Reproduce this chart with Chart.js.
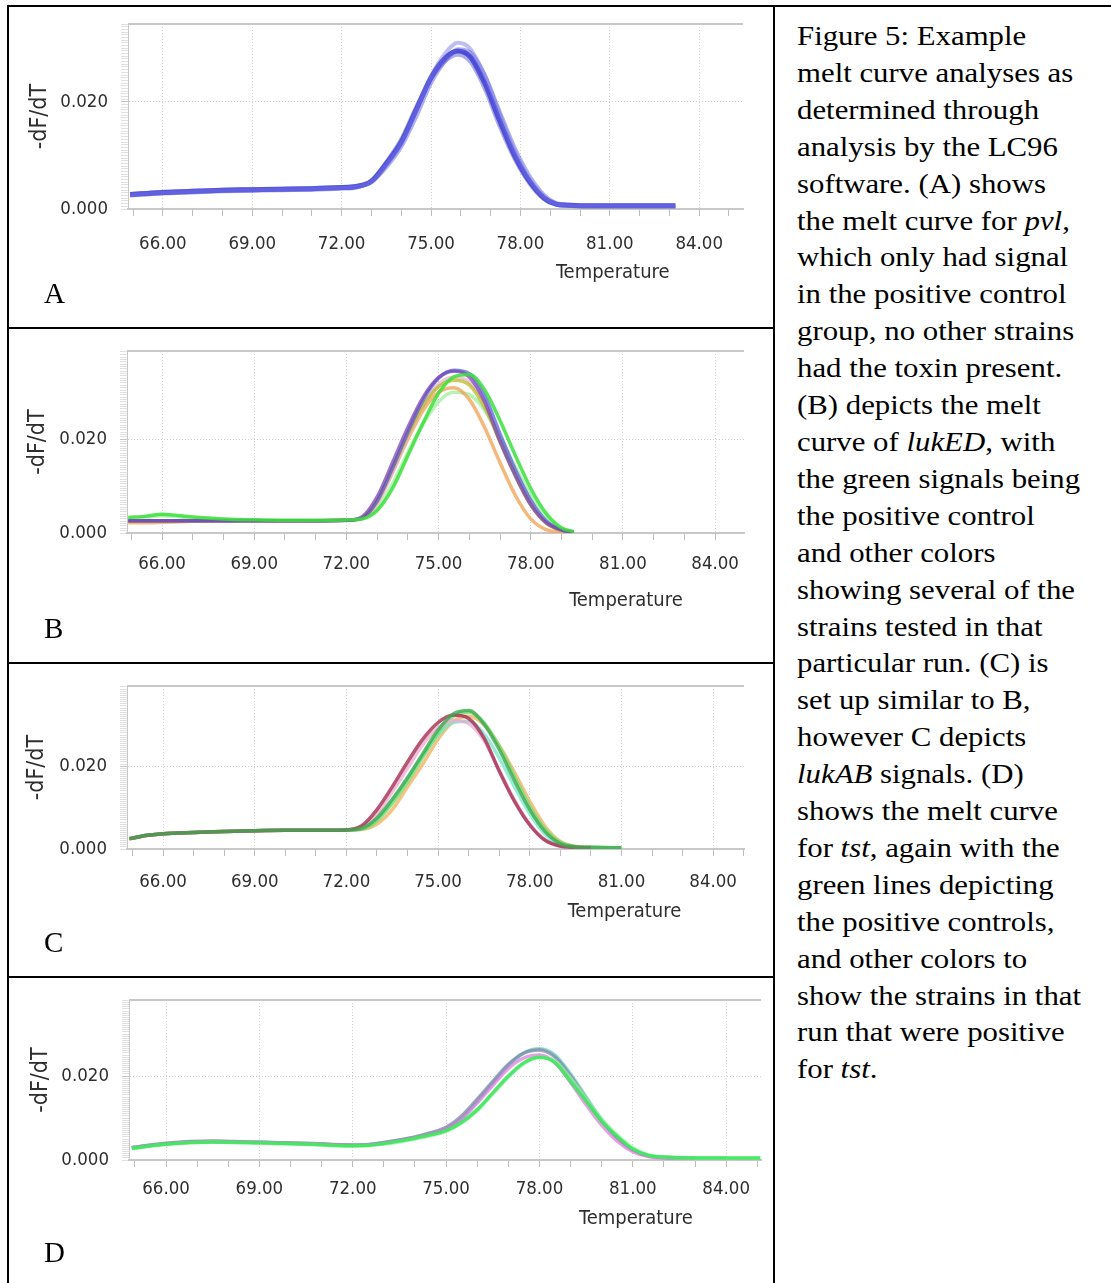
<!DOCTYPE html>
<html>
<head>
<meta charset="utf-8">
<script src="https://cdn.jsdelivr.net/npm/chart.js@4.4.1/dist/chart.umd.min.js"></script>
<style>
  body { margin: 0; background: #fff; }
  #page { position: relative; width: 1111px; height: 1283px; overflow: hidden; background: #fff; }
  canvas { position: absolute; left: 0; }
  .rule { position: absolute; background: #000; z-index: 2; }
  .letter { position: absolute; left: 44px; font-family: "Liberation Serif", "Times New Roman", serif; font-size: 29px; line-height: 29px; color: #000; }
  #caption { position: absolute; left: 797px; top: 18px; font-family: "Liberation Serif", "Times New Roman", serif;
             font-size: 28px; line-height: 36.9px; white-space: nowrap; color: #000;
             transform: scaleX(1.1); transform-origin: 0 0; }
</style>
</head>
<body>
<div id="page">
  <canvas id="chartA" width="775" height="327" style="top:0px"></canvas>
  <canvas id="chartB" width="775" height="335" style="top:327px"></canvas>
  <canvas id="chartC" width="775" height="314" style="top:662px"></canvas>
  <canvas id="chartD" width="775" height="307" style="top:976px"></canvas>

  <div class="rule" style="left:7px;top:5px;width:1104px;height:2px"></div>
  <div class="rule" style="left:7px;top:5px;width:2px;height:1278px"></div>
  <div class="rule" style="left:773px;top:5px;width:2px;height:1278px"></div>
  <div class="rule" style="left:7px;top:327px;width:768px;height:2px"></div>
  <div class="rule" style="left:7px;top:662px;width:768px;height:2px"></div>
  <div class="rule" style="left:7px;top:976px;width:768px;height:2px"></div>

  <div class="letter" style="top:279px">A</div>
  <div class="letter" style="top:614px">B</div>
  <div class="letter" style="top:928px">C</div>
  <div class="letter" style="top:1238px">D</div>

  <div id="caption">Figure 5: Example<br>melt curve analyses as<br>determined through<br>analysis by the LC96<br>software. (A) shows<br>the melt curve for <i>pvl</i>,<br>which only had signal<br>in the positive control<br>group, no other strains<br>had the toxin present.<br>(B) depicts the melt<br>curve of <i>lukED</i>, with<br>the green signals being<br>the positive control<br>and other colors<br>showing several of the<br>strains tested in that<br>particular run. (C) is<br>set up similar to B,<br>however C depicts<br><i>lukAB</i> signals. (D)<br>shows the melt curve<br>for <i>tst</i>, again with the<br>green lines depicting<br>the positive controls,<br>and other colors to<br>show the strains in that<br>run that were positive<br>for <i>tst</i>.</div>
</div>

<script>
// tick labels
const majorTemps = [66, 69, 72, 75, 78, 81, 84];
const xTickLabels = ['66.00', '69.00', '72.00', '75.00', '78.00', '81.00', '84.00'];
const yTickValues = [0, 0.02];
const yTickLabels = ['0.000', '0.020'];

// A - pvl
const tempA = [64.9, 66, 67, 68, 69, 70, 71, 72, 72.5, 73, 73.5, 74, 74.5, 75, 75.5, 75.9, 76.3, 76.8, 77.3, 77.8, 78.3, 78.8, 79.2, 79.6, 80, 81, 82, 83.2];
const pvlMain = [0.0027, 0.0031, 0.0033, 0.0035, 0.0036, 0.0037, 0.0038, 0.0040, 0.0042, 0.0052, 0.0085, 0.0125, 0.0185, 0.0245, 0.0283, 0.0295, 0.0285, 0.0235, 0.0165, 0.0100, 0.0052, 0.0020, 0.0009, 0.0007, 0.0006, 0.0006, 0.0006, 0.0006];
const pvlHigh = [0.0026, 0.0030, 0.0032, 0.0034, 0.0035, 0.0036, 0.0037, 0.0039, 0.0041, 0.0050, 0.0082, 0.0122, 0.0183, 0.0248, 0.0292, 0.0310, 0.0300, 0.0250, 0.0178, 0.0108, 0.0056, 0.0022, 0.0009, 0.0006, 0.0005, 0.0005, 0.0005, 0.0005];
const pvlLate = [0.0028, 0.0032, 0.0034, 0.0036, 0.0037, 0.0038, 0.0039, 0.0041, 0.0043, 0.0050, 0.0078, 0.0116, 0.0172, 0.0235, 0.0278, 0.0298, 0.0293, 0.0250, 0.0182, 0.0115, 0.0062, 0.0026, 0.0011, 0.0008, 0.0007, 0.0006, 0.0006, 0.0006];
const pvlLow = [0.0025, 0.0029, 0.0031, 0.0033, 0.0034, 0.0035, 0.0036, 0.0038, 0.0040, 0.0053, 0.0088, 0.0130, 0.0190, 0.0243, 0.0277, 0.0288, 0.0276, 0.0225, 0.0155, 0.0094, 0.0048, 0.0018, 0.0008, 0.0006, 0.0005, 0.0005, 0.0005, 0.0005];

// B - lukED
const tempB = [64.9, 65.5, 66, 67, 68, 69, 70, 71, 72, 72.5, 73, 73.5, 74, 74.5, 75, 75.5, 76, 76.5, 77, 77.5, 78, 78.5, 79, 79.4];
const edPurple = [0.0026, 0.0026, 0.0026, 0.0026, 0.0026, 0.0026, 0.0026, 0.0026, 0.0027, 0.0034, 0.0077, 0.0150, 0.0225, 0.0290, 0.0332, 0.0345, 0.0333, 0.0280, 0.0195, 0.0122, 0.0060, 0.0022, 0.0006, 0.0002];
const edBlue = [0.0026, 0.0026, 0.0026, 0.0026, 0.0026, 0.0026, 0.0026, 0.0026, 0.0027, 0.0031, 0.0068, 0.0138, 0.0215, 0.0284, 0.0330, 0.0347, 0.0340, 0.0293, 0.0212, 0.0135, 0.0070, 0.0026, 0.0007, 0.0002];
const edGreen = [0.0033, 0.0036, 0.0040, 0.0034, 0.0030, 0.0028, 0.0027, 0.0027, 0.0028, 0.0030, 0.0048, 0.0095, 0.0165, 0.0235, 0.0298, 0.0333, 0.0338, 0.0305, 0.0240, 0.0165, 0.0095, 0.0042, 0.0011, 0.0003];
const edLightGreen = [0.0031, 0.0034, 0.0037, 0.0032, 0.0029, 0.0027, 0.0026, 0.0026, 0.0027, 0.0031, 0.0052, 0.0105, 0.0172, 0.0233, 0.0280, 0.0300, 0.0295, 0.0262, 0.0205, 0.0140, 0.0080, 0.0035, 0.0009, 0.0002];
const edOrange = [0.0022, 0.0022, 0.0023, 0.0025, 0.0026, 0.0026, 0.0026, 0.0026, 0.0027, 0.0031, 0.0065, 0.0130, 0.0200, 0.0262, 0.0300, 0.0310, 0.0285, 0.0225, 0.0150, 0.0080, 0.0030, 0.0007, 0.0002, 0.0001];
const edOlive = [0.0025, 0.0025, 0.0025, 0.0025, 0.0026, 0.0026, 0.0026, 0.0026, 0.0027, 0.0032, 0.0068, 0.0138, 0.0210, 0.0272, 0.0312, 0.0326, 0.0316, 0.0268, 0.0195, 0.0122, 0.0060, 0.0021, 0.0005, 0.0001];
const edPink = [0.0026, 0.0026, 0.0026, 0.0026, 0.0026, 0.0026, 0.0026, 0.0026, 0.0027, 0.0030, 0.0062, 0.0128, 0.0205, 0.0272, 0.0317, 0.0332, 0.0322, 0.0276, 0.0200, 0.0126, 0.0064, 0.0023, 0.0006, 0.0002];

// C - lukAB
const tempC = [64.9, 65.5, 66, 67, 68, 69, 70, 71, 72, 72.5, 73, 73.5, 74, 74.5, 75, 75.5, 76, 76.5, 77, 77.5, 78, 78.5, 79, 79.5, 80, 81];
const abRed = [0.0025, 0.0033, 0.0037, 0.0040, 0.0042, 0.0044, 0.0045, 0.0045, 0.0046, 0.0056, 0.0095, 0.0150, 0.0210, 0.0265, 0.0305, 0.0323, 0.0315, 0.0268, 0.0188, 0.0115, 0.0058, 0.0021, 0.0007, 0.0004, 0.0003, null];
const abGreen = [0.0025, 0.0033, 0.0037, 0.0040, 0.0042, 0.0044, 0.0045, 0.0045, 0.0046, 0.0050, 0.0075, 0.0120, 0.0172, 0.0230, 0.0287, 0.0326, 0.0334, 0.0302, 0.0240, 0.0165, 0.0095, 0.0042, 0.0013, 0.0005, 0.0004, 0.0003];
const abLightGreen = [0.0025, 0.0033, 0.0037, 0.0040, 0.0042, 0.0044, 0.0045, 0.0045, 0.0046, 0.0048, 0.0068, 0.0110, 0.0162, 0.0222, 0.0280, 0.0320, 0.0330, 0.0305, 0.0248, 0.0175, 0.0103, 0.0048, 0.0016, 0.0006, 0.0004, 0.0003];
const abOrange = [0.0025, 0.0033, 0.0037, 0.0040, 0.0042, 0.0044, 0.0045, 0.0045, 0.0046, 0.0047, 0.0060, 0.0095, 0.0150, 0.0205, 0.0265, 0.0308, 0.0320, 0.0300, 0.0250, 0.0185, 0.0115, 0.0055, 0.0018, 0.0006, 0.0004, null];
const abAqua = [0.0025, 0.0033, 0.0037, 0.0040, 0.0042, 0.0044, 0.0045, 0.0045, 0.0046, 0.0049, 0.0072, 0.0115, 0.0170, 0.0225, 0.0275, 0.0305, 0.0308, 0.0278, 0.0220, 0.0150, 0.0085, 0.0035, 0.0010, 0.0004, 0.0003, null];
const abPink = [0.0025, 0.0033, 0.0037, 0.0040, 0.0042, 0.0044, 0.0045, 0.0045, 0.0046, 0.0052, 0.0085, 0.0138, 0.0195, 0.0252, 0.0292, 0.0310, 0.0303, 0.0262, 0.0190, 0.0118, 0.0060, 0.0022, 0.0007, 0.0004, 0.0003, null];

// D - tst
const tempD = [64.9, 66, 67.5, 69, 70.5, 72, 72.5, 73, 73.5, 74, 74.5, 75, 75.5, 76, 76.5, 77, 77.5, 78, 78.5, 79, 79.5, 80, 80.5, 81, 81.5, 82, 83, 84, 85.1];
const tstGreen = [0.0028, 0.0038, 0.0043, 0.0041, 0.0038, 0.0034, 0.0035, 0.0039, 0.0045, 0.0052, 0.0060, 0.0070, 0.0090, 0.0120, 0.0160, 0.0200, 0.0232, 0.0245, 0.0232, 0.0187, 0.0140, 0.0092, 0.0056, 0.0026, 0.0011, 0.0007, 0.0005, 0.0005, 0.0005];
const tstGray = [0.0030, 0.0040, 0.0045, 0.0042, 0.0040, 0.0036, 0.0037, 0.0042, 0.0048, 0.0055, 0.0065, 0.0078, 0.0105, 0.0145, 0.0187, 0.0228, 0.0255, 0.0262, 0.0245, 0.0200, 0.0146, 0.0093, 0.0052, 0.0024, 0.0010, 0.0006, 0.0005, null, null];
const tstTeal = [0.0029, 0.0039, 0.0044, 0.0042, 0.0039, 0.0035, 0.0036, 0.0041, 0.0047, 0.0054, 0.0063, 0.0075, 0.0100, 0.0140, 0.0183, 0.0225, 0.0255, 0.0265, 0.0250, 0.0205, 0.0150, 0.0096, 0.0054, 0.0025, 0.0010, 0.0006, 0.0005, 0.0005, null];
const tstPink = [0.0029, 0.0039, 0.0044, 0.0042, 0.0039, 0.0035, 0.0036, 0.0040, 0.0046, 0.0053, 0.0062, 0.0074, 0.0098, 0.0136, 0.0178, 0.0218, 0.0243, 0.0250, 0.0232, 0.0185, 0.0132, 0.0083, 0.0045, 0.0020, 0.0008, 0.0005, 0.0005, null, null];
const tstLightGreen = [0.0027, 0.0037, 0.0042, 0.0040, 0.0037, 0.0033, 0.0034, 0.0038, 0.0043, 0.0050, 0.0058, 0.0068, 0.0088, 0.0117, 0.0157, 0.0197, 0.0230, 0.0244, 0.0236, 0.0195, 0.0147, 0.0098, 0.0060, 0.0029, 0.0012, 0.0007, 0.0005, 0.0005, 0.0005];

const GRID = '#cdcdcd';
const AXIS = '#c8c8c8';
const TEXT = '#2e2e2e';
const FAMILY = "'DejaVu Sans Condensed', 'DejaVu Sans', sans-serif";

function near(a, b) { return Math.abs(a - b) < 1e-7; }
function isMajor(v) { return majorTemps.some(t => near(t, v)); }

// top line of the plot frame
const topFrame = {
  id: 'topFrame',
  beforeDatasetsDraw(chart) {
    const a = chart.chartArea, ctx = chart.ctx;
    ctx.save();
    ctx.strokeStyle = AXIS;
    ctx.lineWidth = 2;
    ctx.beginPath();
    ctx.moveTo(a.left, a.top);
    ctx.lineTo(a.right, a.top);
    ctx.stroke();
    ctx.restore();
  }
};

// "Temperature" sits under the right part of the axis, not centred
const xCaption = {
  id: 'xCaption',
  afterDraw(chart, args, opts) {
    const ctx = chart.ctx;
    const x = chart.scales.x.getPixelForValue(opts.at);
    ctx.save();
    ctx.font = '20px ' + FAMILY;
    ctx.fillStyle = TEXT;
    ctx.textAlign = 'center';
    ctx.textBaseline = 'middle';
    ctx.fillText(opts.text, x, chart.chartArea.bottom + opts.offset);
    ctx.restore();
  }
};

function makeChart(id, temps, series, g) {
  return new Chart(document.getElementById(id), {
    type: 'line',
    data: {
      datasets: series.map(s => ({
        data: temps.map((t, i) => ({ x: t, y: s.values[i] })),
        borderColor: s.color,
        borderWidth: s.width || 3.5,
        pointRadius: 0,
        fill: false,
        cubicInterpolationMode: 'monotone'
      }))
    },
    options: {
      responsive: false,
      animation: false,
      layout: { padding: g.pad },
      plugins: {
        legend: { display: false },
        tooltip: { enabled: false },
        xCaption: { text: 'Temperature', at: 81.1, offset: g.titleOffset }
      },
      scales: {
        x: {
          type: 'linear',
          min: g.xMin,
          max: g.xMax,
          afterFit: s => { s.height = 90; },
          ticks: {
            stepSize: 1,
            autoSkip: false,
            includeBounds: false,
            maxRotation: 0,
            padding: g.labelPad,
            color: TEXT,
            font: { family: FAMILY, size: 18.5 },
            callback: v => {
              const i = majorTemps.findIndex(t => near(t, v));
              return i >= 0 ? xTickLabels[i] : '';
            }
          },
          grid: {
            color: c => (c.tick && isMajor(c.tick.value)) ? GRID : 'rgba(0,0,0,0)',
            tickColor: '#bdbdbd',
            tickLength: 7,
            lineWidth: 1
          },
          border: { display: true, color: AXIS, width: 2, dash: [1, 2] }
        },
        y: {
          type: 'linear',
          min: 0,
          max: g.yMax,
          afterFit: s => { s.width = g.yWidth; },
          ticks: {
            stepSize: 0.0005,
            autoSkip: false,
            padding: 13,
            color: TEXT,
            font: { family: FAMILY, size: 18.5 },
            callback: v => {
              const i = yTickValues.findIndex(t => near(t, v));
              return i >= 0 ? yTickLabels[i] : '';
            }
          },
          grid: {
            color: c => (c.tick && near(c.tick.value, 0.02)) ? GRID : 'rgba(0,0,0,0)',
            tickColor: c => (c.tick && near(c.tick.value, 0.02)) ? '#c4c4c4' : '#e0e0e0',
            tickLength: 7,
            lineWidth: 1
          },
          border: { display: true, color: AXIS, width: 1, dash: [1, 2] },
          title: {
            display: true,
            text: '-dF/dT',
            color: TEXT,
            padding: 0,
            font: { family: FAMILY, size: 23 }
          }
        }
      }
    },
    plugins: [topFrame, xCaption]
  });
}

makeChart('chartA', tempA, [
  { values: pvlHigh, color: 'rgba(110,110,230,0.45)', width: 4 },
  { values: pvlLate, color: 'rgba(95,95,225,0.5)', width: 4 },
  { values: pvlLow, color: 'rgba(90,90,220,0.5)', width: 4 },
  { values: pvlMain, color: 'rgba(55,55,205,0.9)', width: 5 }
], { xMin: 64.83, xMax: 85.47, yMax: 0.0345, yWidth: 102, labelPad: 17, titleOffset: 64,
     pad: { left: 26, top: 19, right: 32, bottom: 28 } });

makeChart('chartB', tempB, [
  { values: edGreen, color: 'rgba(60,225,60,0.85)' },
  { values: edPurple, color: 'rgba(120,70,180,0.75)' },
  { values: edBlue, color: 'rgba(80,90,215,0.7)' },
  { values: edOlive, color: 'rgba(185,185,40,0.75)' },
  { values: edPink, color: 'rgba(235,175,205,0.7)' },
  { values: edOrange, color: 'rgba(240,160,80,0.75)' },
  { values: edLightGreen, color: 'rgba(150,240,150,0.7)' }
], { xMin: 64.86, xMax: 84.94, yMax: 0.0388, yWidth: 103, labelPad: 13, titleOffset: 68,
     pad: { left: 24, top: 16, right: 31, bottom: 39 } });

makeChart('chartC', tempC, [
  { values: abGreen, color: 'rgba(60,170,80,0.8)' },
  { values: abRed, color: 'rgba(165,45,80,0.8)' },
  { values: abPink, color: 'rgba(235,170,210,0.75)' },
  { values: abLightGreen, color: 'rgba(110,220,110,0.75)' },
  { values: abAqua, color: 'rgba(110,230,200,0.7)' },
  { values: abOrange, color: 'rgba(240,175,90,0.75)' }
], { xMin: 64.82, xMax: 85.01, yMax: 0.0393, yWidth: 104, labelPad: 15, titleOffset: 63,
     pad: { left: 23, top: 12, right: 31, bottom: 37 } });

makeChart('chartD', tempD, [
  { values: tstGreen, color: 'rgba(60,230,90,0.85)' },
  { values: tstLightGreen, color: 'rgba(150,240,160,0.7)' },
  { values: tstPink, color: 'rgba(220,120,220,0.7)' },
  { values: tstGray, color: 'rgba(120,130,165,0.7)' },
  { values: tstTeal, color: 'rgba(100,200,190,0.7)' }
], { xMin: 64.81, xMax: 85.12, yMax: 0.0381, yWidth: 102, labelPad: 11, titleOffset: 59,
     pad: { left: 27, top: 20, right: 14, bottom: 33 } });
</script>
</body>
</html>
